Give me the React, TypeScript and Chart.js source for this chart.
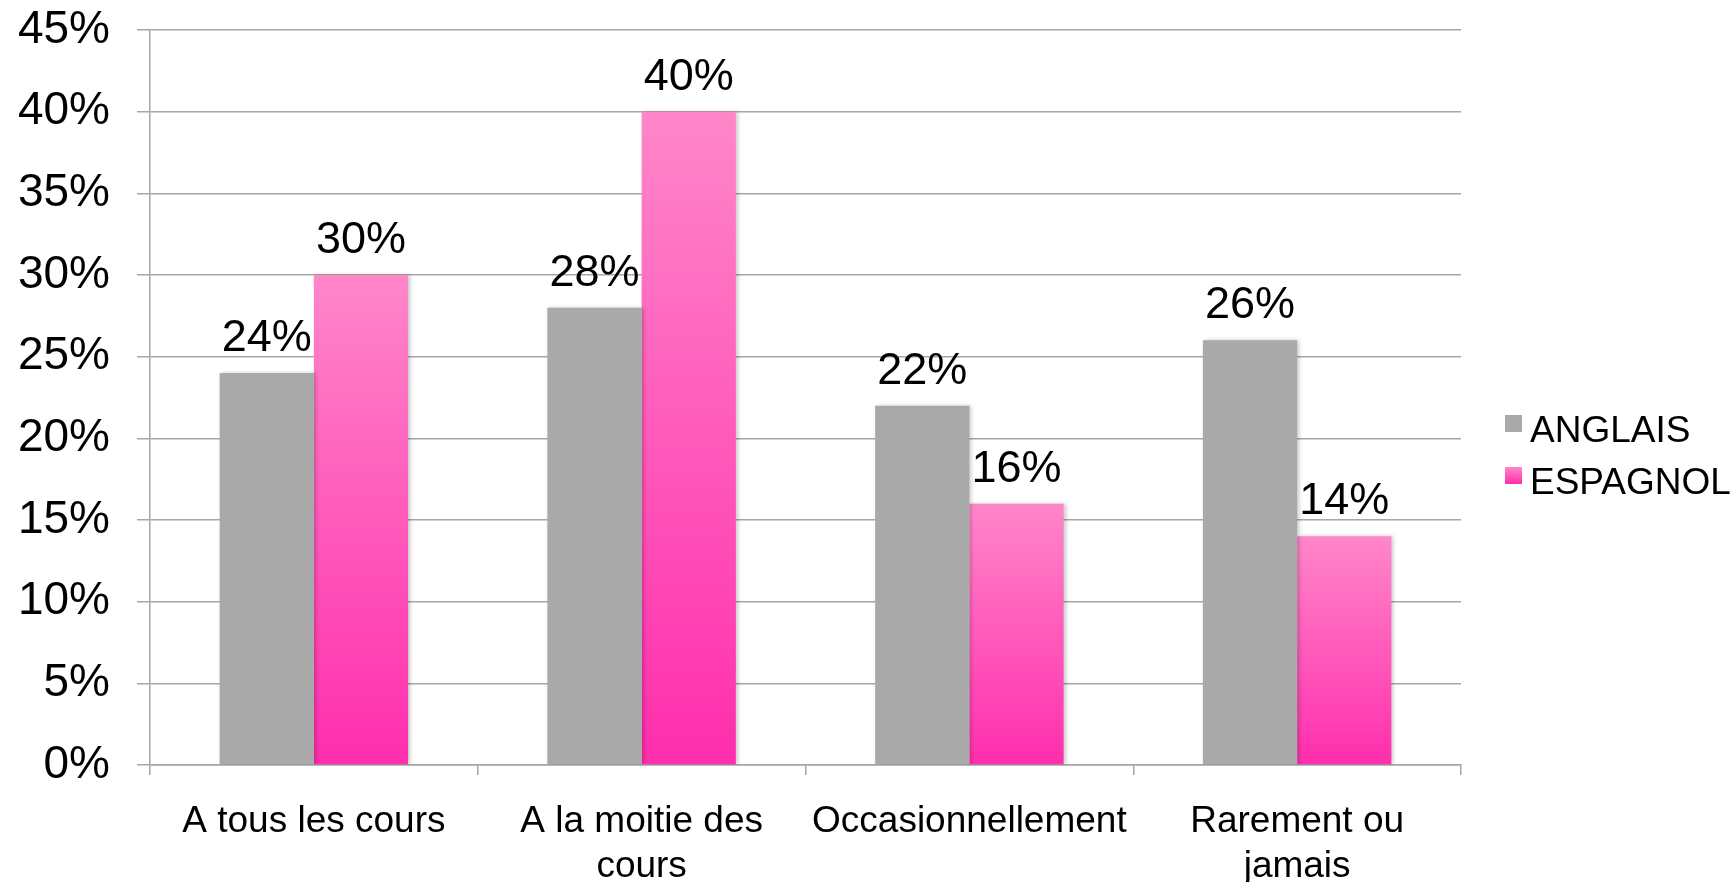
import React, { useEffect, useRef } from "react";
import { Chart, registerables } from "chart.js";

Chart.register(...registerables);

const categories: (string | string[])[] = [
  "A tous les cours",
  ["A la moitie des", "cours"],
  "Occasionnellement",
  ["Rarement ou", "jamais"],
];
const anglais = [24, 28, 22, 26];
const espagnol = [30, 40, 16, 14];
const seriesNames = ["ANGLAIS", "ESPAGNOL"];
const yTicks = [0, 5, 10, 15, 20, 25, 30, 35, 40, 45];

const FONT = "'Liberation Sans', Arial, Helvetica, sans-serif";
const GREY = "#A9A9A9";
const PINK_TOP = "#FF86C9";
const PINK_BOTTOM = "#FF2EAD";
const GRID = "#A6A6A6";

function pinkGradient(ctx: CanvasRenderingContext2D, top: number, bottom: number) {
  const g = ctx.createLinearGradient(0, top, 0, bottom);
  g.addColorStop(0, PINK_TOP);
  g.addColorStop(1, PINK_BOTTOM);
  return g;
}

const dataLabelPlugin = {
  id: "dataLabels",
  afterDatasetsDraw(chart: any) {
    const ctx = chart.ctx;
    ctx.save();
    ctx.font = `45px ${FONT}`;
    ctx.fillStyle = "#000";
    ctx.textAlign = "center";
    ctx.textBaseline = "alphabetic";
    chart.data.datasets.forEach((ds: any, di: number) => {
      const meta = chart.getDatasetMeta(di);
      meta.data.forEach((bar: any, i: number) => {
        ctx.fillText(`${ds.data[i]}%`, bar.x, bar.y - 22);
      });
    });
    ctx.restore();
  },
};

const shadowPlugin = {
  id: "barShadow",
  beforeDatasetsDraw(chart: any) {
    const ctx = chart.ctx;
    ctx.save();
    ctx.shadowColor = "rgba(0,0,0,0.22)";
    ctx.shadowBlur = 4;
    ctx.shadowOffsetX = 2;
    ctx.shadowOffsetY = 0;
  },
  afterDatasetsDraw(chart: any) {
    chart.ctx.restore();
  },
};

const legendPlugin = {
  id: "customLegend",
  afterDraw(chart: any) {
    const ctx = chart.ctx;
    ctx.save();
    ctx.font = `37px ${FONT}`;
    ctx.textAlign = "left";
    ctx.textBaseline = "alphabetic";
    const rows = [
      { boxTop: 415, baseline: 442 },
      { boxTop: 467, baseline: 494 },
    ];
    chart.data.datasets.forEach((ds: any, i: number) => {
      const r = rows[i];
      const x = 1505;
      const s = 17;
      if (i === 0) ctx.fillStyle = GREY;
      else ctx.fillStyle = pinkGradient(ctx, r.boxTop, r.boxTop + s);
      ctx.fillRect(x, r.boxTop, s, s);
      ctx.fillStyle = "#000";
      ctx.fillText(ds.label, 1530, r.baseline);
    });
    ctx.restore();
  },
};

export default function App() {
  const ref = useRef<HTMLCanvasElement | null>(null);

  useEffect(() => {
    if (!ref.current) return;
    const chart = new Chart(ref.current, {
      type: "bar",
      data: {
        labels: categories,
        datasets: [
          {
            label: seriesNames[0],
            data: anglais,
            backgroundColor: GREY,
            borderWidth: 0,
          },
          {
            label: seriesNames[1],
            data: espagnol,
            borderWidth: 0,
            backgroundColor: (c: any) => {
              const ch = c.chart;
              const ca = ch.chartArea;
              const ys = ch.scales?.y;
              if (!ca || !ys || c.dataIndex === undefined) return PINK_BOTTOM;
              const v = espagnol[c.dataIndex];
              const top = ys.getPixelForValue(v);
              const bottom = ys.getPixelForValue(0);
              return pinkGradient(ch.ctx, top, bottom);
            },
          },
        ],
      },
      options: {
        responsive: false,
        animation: false,
        events: [],
        layout: { padding: { top: 30, right: 274, bottom: 0, left: 0 } },
        datasets: {
          bar: { categoryPercentage: 0.575, barPercentage: 1 },
        },
        plugins: {
          legend: { display: false },
          tooltip: { enabled: false },
          title: { display: false },
        },
        scales: {
          x: {
            offset: true,
            grid: {
              offset: true,
              drawOnChartArea: false,
              drawTicks: true,
              tickLength: 10,
              color: GRID,
              lineWidth: 1.5,
            },
            border: { display: true, color: GRID, width: 1.5 },
            ticks: {
              color: "#000",
              padding: 25,
              maxRotation: 0,
              autoSkip: false,
              font: { family: FONT, size: 37, lineHeight: 1.2 },
            },
            afterFit: (s: any) => {
              s.height = 117;
              s.paddingLeft = 0;
              s.paddingRight = 0;
            },
          },
          y: {
            min: 0,
            max: 45,
            afterBuildTicks: (s: any) => {
              s.ticks = yTicks.map((v) => ({ value: v }));
            },
            grid: {
              drawTicks: true,
              tickLength: 13,
              color: GRID,
              lineWidth: 1.5,
            },
            border: { display: true, color: GRID, width: 1.5 },
            ticks: {
              color: "#000",
              padding: 27,
              font: { family: FONT, size: 46 },
              callback: (v: any) => `${v}%`,
            },
            afterFit: (s: any) => {
              s.width = 150;
              s.paddingTop = 20;
              s.paddingBottom = 0;
            },
          },
        },
      },
      plugins: [shadowPlugin, dataLabelPlugin, legendPlugin],
    });
    return () => chart.destroy();
  }, []);

  return (
    <canvas
      ref={ref}
      width={1735}
      height={882}
      style={{ position: "absolute", left: 0, top: 0, width: 1735, height: 882 }}
    />
  );
}
